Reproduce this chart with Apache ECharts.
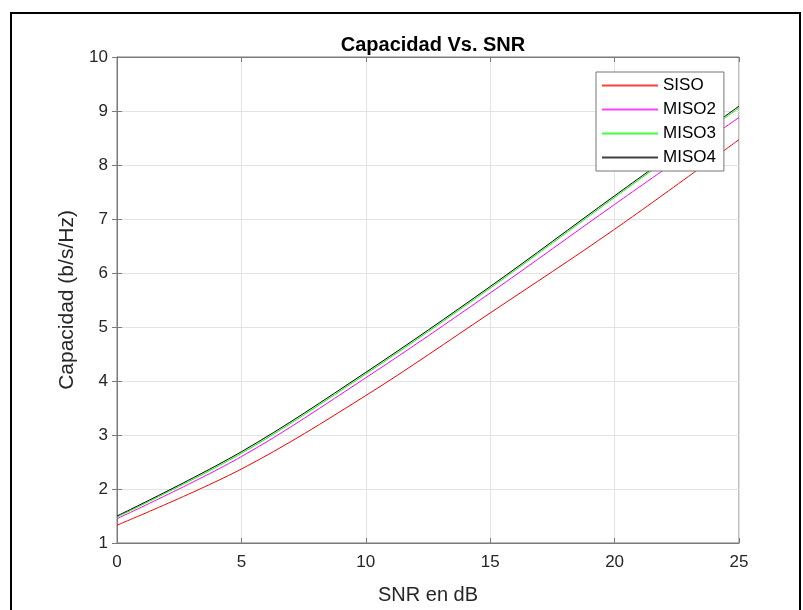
<!DOCTYPE html>
<html style="height: 100%">
<head>
    <meta charset="utf-8">
    <title>Capacidad Vs. SNR</title>
</head>
<body style="height: 100%; margin: 0; background: #fff">
<div id="container" style="width: 803px; height: 610px"></div>
<script src="https://cdn.jsdelivr.net/npm/echarts@6.0.0/dist/echarts.min.js"></script>
<script>
    // valores
    var snr = [0, 5, 10, 15, 20, 25];
    var siso = [1.33, 2.37, 3.73, 5.26, 6.81, 8.47];
    var miso2 = [1.45, 2.60, 4.06, 5.63, 7.27, 8.88];
    var miso3 = [1.48, 2.66, 4.13, 5.72, 7.40, 9.06];
    var miso4 = [1.50, 2.69, 4.16, 5.75, 7.43, 9.09];
    var nombres = ['SISO', 'MISO2', 'MISO3', 'MISO4'];
    var colores = ['#ff0000', '#ff00ff', '#00ff00', '#000000'];
    var xTicks = [0, 25, 5];
    var yTicks = [1, 10, 1];

    function pares(ys) {
        return snr.map(function (x, i) { return [x, ys[i]]; });
    }

    function serie(name, ys, color) {
        return {
            name: name,
            type: 'line',
            data: pares(ys),
            smooth: 0.35,
            symbol: 'none',
            lineStyle: { color: color, width: 1 },
            itemStyle: { color: color },
            xAxisIndex: 0,
            yAxisIndex: 0
        };
    }

    var font = 'Liberation Sans, Arial, Helvetica, sans-serif';
    var axisGray = '#7a7a7a';
    var gridGray = '#e3e3e3';

    var dom = document.getElementById('container');
    var myChart = echarts.init(dom);

    var option = {
        animation: false,
        backgroundColor: '#fff',
        textStyle: { fontFamily: font },
        title: {
            text: 'Capacidad Vs. SNR',
            left: 428,
            top: 30,
            textAlign: 'center',
            textStyle: { fontSize: 20, fontWeight: 'bold', color: '#000', fontFamily: font }
        },
        graphic: [{
            type: 'rect',
            shape: { x: 11, y: 13, width: 789, height: 610 },
            style: { fill: 'none', stroke: '#000', lineWidth: 2 },
            silent: true,
            z: -1
        }],
        legend: {
            orient: 'vertical',
            left: 596,
            top: 72,
            itemWidth: 56,
            itemHeight: 2,
            itemGap: 7,
            padding: [5, 8, 5, 6],
            borderColor: '#777',
            borderWidth: 1,
            backgroundColor: '#fff',
            textStyle: { fontSize: 17, color: '#000', fontFamily: font, lineHeight: 17 },
            data: nombres.map(function (n, i) {
                return {
                    name: n,
                    icon: 'rect',
                    itemStyle: { color: colores[i], borderWidth: 0, opacity: 0.75 }
                };
            })
        },
        grid: {
            left: 117,
            top: 57,
            width: 622,
            height: 490,
            show: true,
            borderColor: axisGray,
            borderWidth: 1,
            containLabel: false
        },
        xAxis: [{
            type: 'value',
            min: xTicks[0],
            max: xTicks[1],
            interval: xTicks[2],
            name: 'SNR en dB',
            nameLocation: 'middle',
            nameGap: 42,
            nameTextStyle: { fontSize: 20, color: '#262626', fontFamily: font },
            axisLine: { show: true, lineStyle: { color: axisGray } },
            axisTick: { show: true, inside: true, length: 5, lineStyle: { color: axisGray } },
            axisLabel: { fontSize: 17, color: '#262626', margin: 11, fontFamily: font },
            splitLine: { show: true, lineStyle: { color: gridGray, width: 1 } }
        }, {
            type: 'value',
            position: 'top',
            min: xTicks[0],
            max: xTicks[1],
            interval: xTicks[2],
            axisLine: { show: true, lineStyle: { color: axisGray } },
            axisTick: { show: true, inside: true, length: 5, lineStyle: { color: axisGray } },
            axisLabel: { show: false },
            splitLine: { show: false }
        }],
        yAxis: [{
            type: 'value',
            min: yTicks[0],
            max: yTicks[1],
            interval: yTicks[2],
            name: 'Capacidad (b/s/Hz)',
            nameLocation: 'middle',
            nameGap: 36,
            nameTextStyle: { fontSize: 21, color: '#262626', fontFamily: font },
            axisLine: { show: true, lineStyle: { color: axisGray } },
            axisTick: { show: true, inside: true, length: 5, lineStyle: { color: axisGray } },
            axisLabel: { fontSize: 17, color: '#262626', margin: 9, fontFamily: font },
            splitLine: { show: true, lineStyle: { color: gridGray, width: 1 } }
        }, {
            type: 'value',
            position: 'right',
            min: yTicks[0],
            max: yTicks[1],
            interval: yTicks[2],
            axisLine: { show: true, lineStyle: { color: axisGray } },
            axisTick: { show: true, inside: true, length: 5, lineStyle: { color: axisGray } },
            axisLabel: { show: false },
            splitLine: { show: false }
        }],
        series: [
            serie(nombres[0], siso, colores[0]),
            serie(nombres[1], miso2, colores[1]),
            serie(nombres[2], miso3, colores[2]),
            serie(nombres[3], miso4, colores[3])
        ]
    };

    myChart.setOption(option);
    window.onresize = function () {
        myChart.resize();
    };
</script>
</body>
</html>
